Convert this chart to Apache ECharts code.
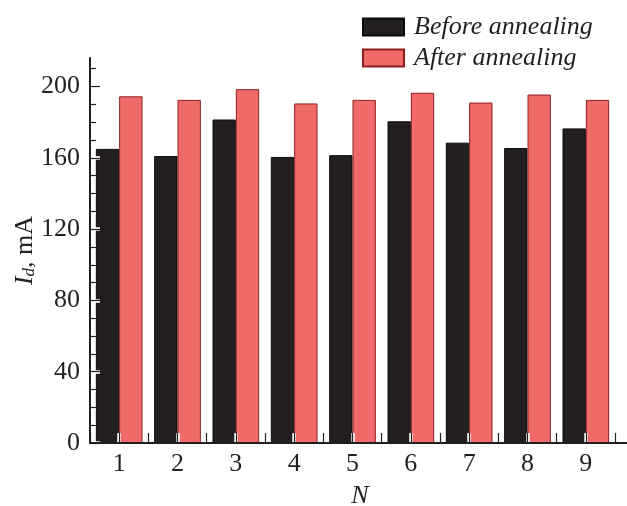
<!DOCTYPE html>
<html><head><meta charset="utf-8">
<script src="https://cdn.jsdelivr.net/npm/echarts@6/dist/echarts.min.js"></script>
<style>html,body{margin:0;padding:0;background:#fff}#c{width:627px;height:506px}</style>
</head><body><div id="c"></div>
<script>
const categories = ['1', '2', '3', '4', '5', '6', '7', '8', '9'];
const beforeAnnealing = [165, 161, 181.5, 160.5, 161.5, 180.5, 168.5, 165.5, 176.5];
const afterAnnealing = [194.5, 192.5, 198.5, 190.5, 192.5, 196.5, 191, 195.5, 192.5];
const yMajorTicks = [0, 40, 80, 120, 160, 200];
const yMinorTicks = [10, 20, 30, 50, 60, 70, 90, 100, 110, 130, 140, 150, 170, 180, 190, 210];
const xTickSlots = ['', '', '', '', '', '', '', '', '', '', '', '', '', '', '', '', '', '', ''];
const seriesNames = ['Before annealing', 'After annealing'];

const font = 'Liberation Serif';
const ink = '#231F20';
const yMax = 216;

function yBase(extra) {
  return Object.assign({
    type: 'value', min: 0, max: yMax, position: 'left',
    axisLine: { show: false }, axisLabel: { show: false },
    splitLine: { show: false }, axisTick: { show: false }
  }, extra);
}
function xTicks(z, color, width) {
  return {
    type: 'category', data: xTickSlots, boundaryGap: false, position: 'bottom', z: z,
    axisLine: { show: false }, axisLabel: { show: false }, splitLine: { show: false },
    axisTick: { show: true, inside: true, length: 10, interval: 0, lineStyle: { color: color, width: width } }
  };
}

const chart = echarts.init(document.getElementById('c'), null, { renderer: 'canvas' });
chart.setOption({
  animation: false,
  backgroundColor: '#fff',
  grid: { left: 90, right: 12, top: 58, bottom: 63, containLabel: false, outerBoundsMode: 'none' },
  legend: {
    orient: 'vertical', left: 362, top: 14, padding: 0, itemGap: 5,
    itemWidth: 41, itemHeight: 17, icon: 'rect', selectedMode: false,
    textStyle: { fontFamily: font, fontStyle: 'italic', fontSize: 26, color: ink, lineHeight: 26, padding: [0, 0, 0, 5] },
    data: seriesNames
  },
  xAxis: [
    {
      type: 'category', data: categories, position: 'bottom', z: 5,
      axisLine: { lineStyle: { color: ink, width: 2 }, symbol: ['none', 'rect'], symbolSize: [2, 12], symbolOffset: [0, 6] },
      axisTick: { show: false },
      axisLabel: { margin: 8, fontFamily: font, fontSize: 26, color: ink },
      name: 'N', nameLocation: 'middle', nameGap: 40, nameMoveOverlap: false,
      nameTextStyle: { fontFamily: font, fontStyle: 'italic', fontSize: 26, color: ink, padding: [0, 0, 0, 15] }
    },
    xTicks(4, '#ffffff', 3.5),
    xTicks(5, ink, 1.2)
  ],
  yAxis: [
    yBase({
      z: 5,
      axisLine: { show: true, lineStyle: { color: ink, width: 2 } },
      axisTick: { show: true, inside: true, length: 10, customValues: yMajorTicks, lineStyle: { color: ink, width: 1.2 } },
      axisLabel: { show: true, customValues: yMajorTicks, margin: 10, fontFamily: font, fontSize: 26, color: ink },
      name: '{i|I}{s|d}{n|, mA}', nameLocation: 'middle', nameRotate: 90, nameGap: 52, nameMoveOverlap: false,
      nameTextStyle: {
        rich: {
          i: { fontFamily: font, fontStyle: 'italic', fontSize: 26, lineHeight: 26, color: ink },
          s: { fontFamily: font, fontStyle: 'italic', fontSize: 17, lineHeight: 10, verticalAlign: 'bottom', color: ink },
          n: { fontFamily: font, fontSize: 26, lineHeight: 26, color: ink }
        }
      }
    }),
    yBase({ z: 4, axisTick: { show: true, inside: true, length: 10, customValues: yMajorTicks, lineStyle: { color: '#ffffff', width: 3.5 } } }),
    yBase({ z: 5, axisTick: { show: true, inside: true, length: 6, customValues: yMinorTicks, lineStyle: { color: ink, width: 1.2 } } }),
    yBase({ z: 4, axisTick: { show: true, inside: true, length: 6, customValues: yMinorTicks, lineStyle: { color: '#ffffff', width: 3.5 } } })
  ],
  series: [
    {
      name: seriesNames[0], type: 'bar', xAxisIndex: 0, yAxisIndex: 0,
      data: beforeAnnealing, barGap: '0%', barCategoryGap: '20%',
      itemStyle: { color: ink, borderColor: '#0d0b0c', borderWidth: 1 }
    },
    {
      name: seriesNames[1], type: 'bar', xAxisIndex: 0, yAxisIndex: 0,
      data: afterAnnealing, barGap: '0%', barCategoryGap: '20%',
      itemStyle: { color: '#F06A6A', borderColor: '#8e1e1e', borderWidth: 1 }
    }
  ]
});
</script></body></html>
